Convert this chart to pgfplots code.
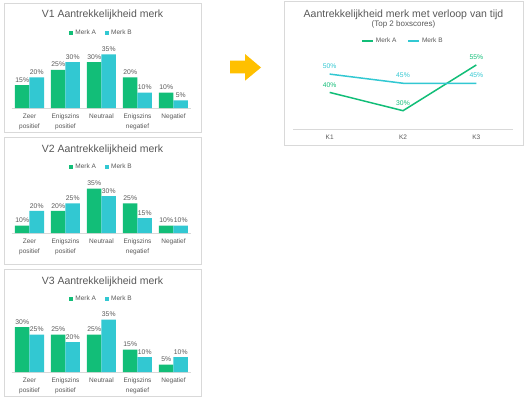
\documentclass[border=0pt]{standalone}
\usepackage{pgfplots}
\pgfplotsset{compat=1.18}
\usepackage{fontspec}
\setmainfont{Liberation Sans}
\definecolor{mA}{HTML}{12BE78}
\definecolor{mB}{HTML}{32C8D2}
\definecolor{txt}{HTML}{595959}
\definecolor{frame}{HTML}{D9D9D9}
\definecolor{arrowc}{HTML}{FFC000}
\pgfplotsset{
  /pgf/number format/assume math mode=true,
  barpanel/.style={
    scale only axis, width=180pt,
    ybar=0pt, bar width=14.5pt,
    xmin=-0.5, xmax=4.5, ymax=40,
    xtick={0,1,2,3,4},
    xticklabels={{Zeer\\positief},{Enigszins\\positief},{Neutraal},{Enigszins\\negatief},{Negatief}},
    xticklabel style={align=center, font=\fontsize{6.5}{9.8}\selectfont, text=txt, yshift=-2.5pt},
    ytick=\empty,
    axis x line*=bottom, axis y line=none,
    axis line style={-, draw=frame, line width=0.6pt},
    major tick length=0pt,
    nodes near coords={\pgfmathprintnumber{\pgfplotspointmeta}\%},
    every node near coord/.append style={font=\fontsize{6.8}{7}\selectfont, text=txt, inner sep=2.5pt},
    legend style={at={(0.5,1)}, anchor=center, draw=none, fill=none, legend columns=2,
      font=\fontsize{6.5}{7}\selectfont, text=txt,
      /tikz/every even column/.append style={column sep=7pt}},
    legend image code/.code={\fill[##1,draw=none] (0pt,-2.1pt) rectangle (4.2pt,2.1pt);},
    clip=false,
  },
}
\begin{document}
\begin{tikzpicture}[x=1pt,y=1pt]
\fill[white] (0,0) rectangle (526,400);
% frames
\draw[frame, line width=0.6pt] (4,397) rectangle (201,268);
\draw[frame, line width=0.6pt] (4,262.5) rectangle (201,136);
\draw[frame, line width=0.6pt] (4,131) rectangle (201,3.3);
\draw[frame, line width=0.6pt] (284,398.3) rectangle (523,255);

% V1
\begin{axis}[barpanel, at={(11.5pt,292pt)}, anchor=south west, height=61.2pt, ymin=0,
  legend style={yshift=13.8pt}]
\addplot[fill=mA, draw=none] coordinates {(0,15) (1,25) (2,30) (3,20) (4,10)};
\addplot[fill=mB, draw=none] coordinates {(0,20) (1,30) (2,35) (3,10) (4,5)};
\legend{Merk A, Merk B}
\end{axis}
\node[font=\fontsize{10.5}{12}\selectfont, text=txt] at (102.5,385) {V1 Aantrekkelijkheid merk};

% V2
\begin{axis}[barpanel, at={(11.5pt,167pt)}, anchor=south west, height=51.8pt, ymin=5,
  legend style={yshift=14.2pt}]
\addplot[fill=mA, draw=none] coordinates {(0,10) (1,20) (2,35) (3,25) (4,10)};
\addplot[fill=mB, draw=none] coordinates {(0,20) (1,25) (2,30) (3,15) (4,10)};
\legend{Merk A, Merk B}
\end{axis}
\node[font=\fontsize{10.5}{12}\selectfont, text=txt] at (102.5,250) {V2 Aantrekkelijkheid merk};

% V3
\begin{axis}[barpanel, at={(11.5pt,28pt)}, anchor=south west, height=60pt, ymin=0,
  legend style={yshift=13pt}]
\addplot[fill=mA, draw=none] coordinates {(0,30) (1,25) (2,25) (3,15) (4,5)};
\addplot[fill=mB, draw=none] coordinates {(0,25) (1,20) (2,35) (3,10) (4,10)};
\legend{Merk A, Merk B}
\end{axis}
\node[font=\fontsize{10.5}{12}\selectfont, text=txt] at (102.5,118) {V3 Aantrekkelijkheid merk};

% arrow
\fill[arrowc] (230,339.3) -- (245,339.3) -- (245,346) -- (261,332.5) -- (245,319.3) -- (245,326.7) -- (230,326.7) -- cycle;

% line chart
\begin{axis}[at={(293pt,271pt)}, anchor=south west, scale only axis, width=220pt, height=73.2pt,
  xmin=0.5, xmax=3.5, ymin=20, ymax=60,
  xtick={1,2,3}, xticklabels={K1,K2,K3},
  ytick=\empty, axis x line*=bottom, axis y line=none,
  axis line style={-, draw=frame, line width=0.6pt},
  major tick length=0pt,
  xticklabel style={font=\fontsize{6.5}{7.5}\selectfont, text=txt, yshift=-2.5pt},
  legend style={at={(0.5,1)}, anchor=center, yshift=14.8pt, draw=none, fill=none, legend columns=2,
    font=\fontsize{6.5}{7}\selectfont, text=txt,
    /tikz/every even column/.append style={column sep=9pt}},
  legend image code/.code={\draw[#1] (0pt,0pt) -- (11pt,0pt);},
  clip=false,
  nodes near coords={\pgfmathprintnumber{\pgfplotspointmeta}\%},
  every node near coord/.append style={font=\fontsize{6.8}{7}\selectfont, inner sep=4.5pt},
]
\addplot[mA, line width=1.5pt, mark=none, every node near coord/.append style={text=mA}]
  coordinates {(1,40) (2,30) (3,55)};
\addplot[mB, line width=1.5pt, mark=none, every node near coord/.append style={text=mB}]
  coordinates {(1,50) (2,45) (3,45)};
\legend{Merk A, Merk B}
\end{axis}
\node[font=\fontsize{10.5}{12}\selectfont, text=txt] at (403.5,385) {Aantrekkelijkheid merk met verloop van tijd};
\node[font=\fontsize{8}{9}\selectfont, text=txt] at (403.5,375.5) {(Top 2 boxscores)};

\pgfresetboundingbox
\useasboundingbox (0,0) rectangle (526,400);
\end{tikzpicture}
\end{document}
